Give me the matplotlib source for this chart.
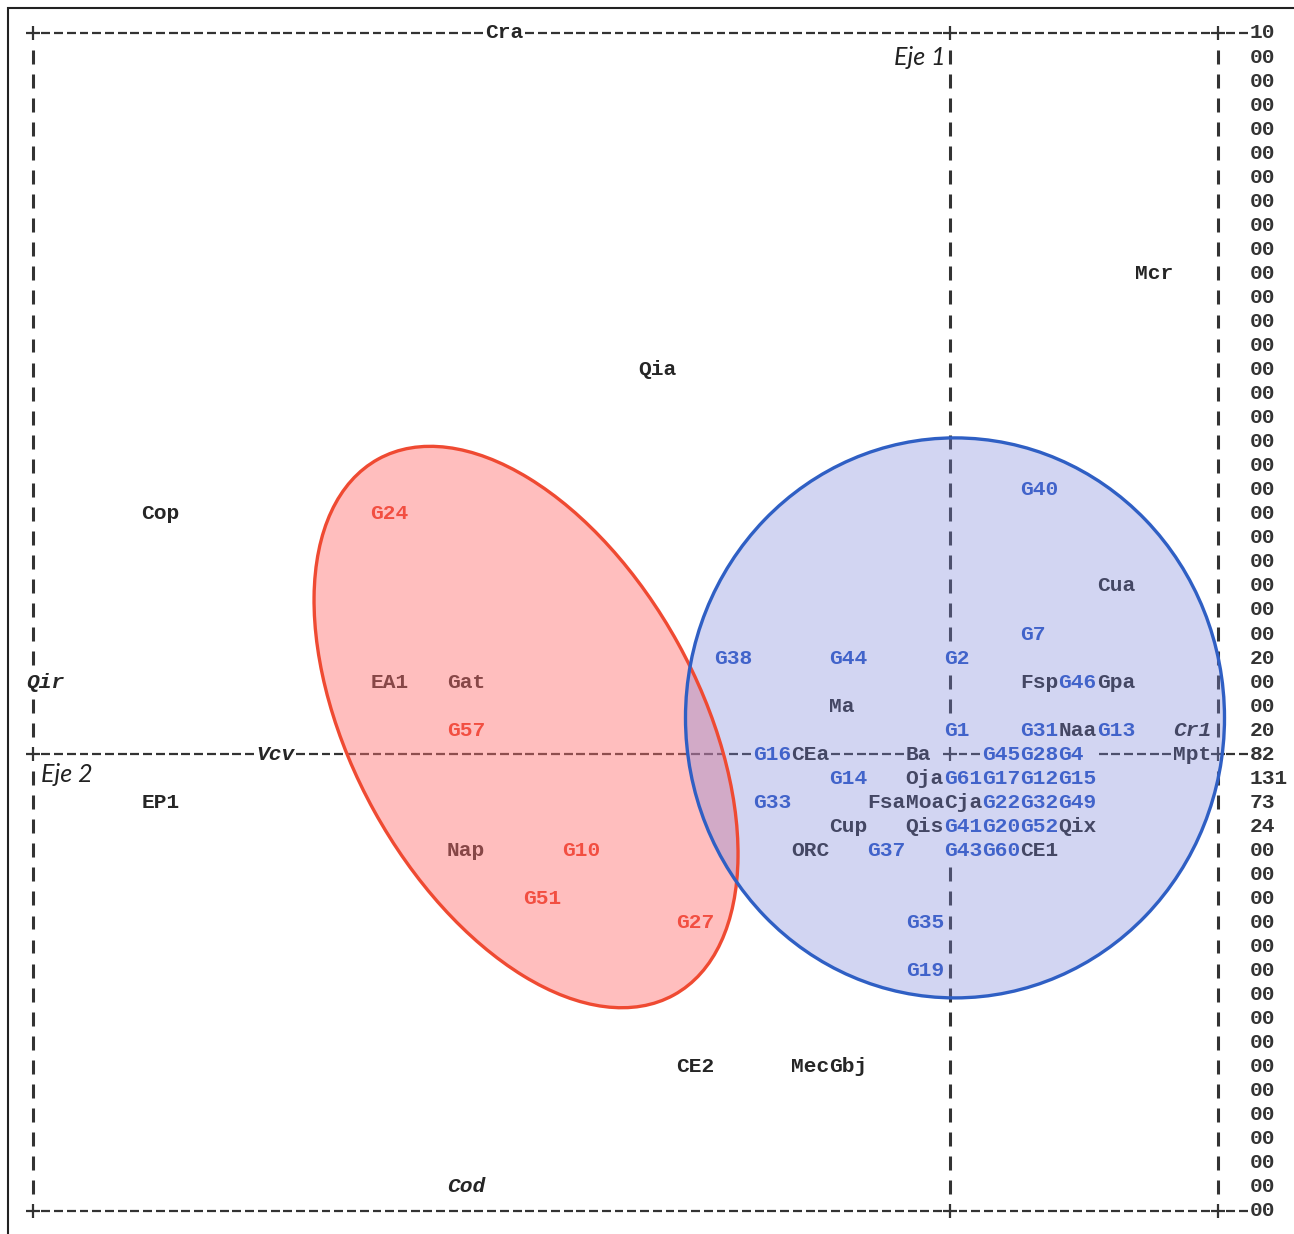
import matplotlib
matplotlib.use('Agg')
import matplotlib.pyplot as plt
from matplotlib.patches import Ellipse, Rectangle
from matplotlib.transforms import Affine2D

# etiquetas del biplot en la rejilla de caracteres (columna, fila)
etiquetas = ['Cra', 'Mcr', 'Qia', 'G40', 'Cop', 'G24', 'Cua', 'G7', 'G38', 'G44', 'G2',
             'Qir', 'EA1', 'Gat', 'Fsp', 'G46', 'Gpa', 'Ma', 'G57', 'G1', 'G31', 'Naa', 'G13', 'Cr1',
             'Vcv', 'G16', 'CEa', 'Ba', 'G45', 'G28', 'G4', 'Mpt',
             'G14', 'Oja', 'G61', 'G17', 'G12', 'G15',
             'EP1', 'G33', 'Fsa', 'Moa', 'Cja', 'G22', 'G32', 'G49',
             'Cup', 'Qis', 'G41', 'G20', 'G52', 'Qix',
             'Nap', 'G10', 'ORC', 'G37', 'G43', 'G60', 'CE1',
             'G51', 'G27', 'G35', 'G19', 'CE2', 'Mec', 'Gbj', 'Cod']
columna = [36, 87, 48, 78, 9, 27, 84, 78, 54, 63, 72,
           0, 27, 33, 78, 81, 84, 63, 33, 72, 78, 81, 84, 90,
           18, 57, 60, 69, 75, 78, 81, 90,
           63, 69, 72, 75, 78, 81,
           9, 57, 66, 69, 72, 75, 78, 81,
           63, 69, 72, 75, 78, 81,
           33, 42, 60, 66, 72, 75, 78,
           39, 51, 69, 69, 51, 60, 63, 33]
fila = [0, 10, 14, 19, 20, 20, 23, 25, 26, 26, 26,
        27, 27, 27, 27, 27, 27, 28, 29, 29, 29, 29, 29, 29,
        30, 30, 30, 30, 30, 30, 30, 30,
        31, 31, 31, 31, 31, 31,
        32, 32, 32, 32, 32, 32, 32, 32,
        33, 33, 33, 33, 33, 33,
        34, 34, 34, 34, 34, 34, 34,
        36, 37, 37, 39, 43, 43, 43, 48]
# v = variable, i = variable en cursiva, r = grupo rojo, a = grupo azul
grupo = ['v', 'v', 'v', 'a', 'v', 'r', 'v', 'a', 'a', 'a', 'a',
         'i', 'v', 'v', 'v', 'a', 'v', 'v', 'r', 'a', 'a', 'v', 'a', 'i',
         'i', 'a', 'v', 'v', 'a', 'a', 'a', 'v',
         'a', 'v', 'a', 'a', 'a', 'a',
         'v', 'a', 'v', 'v', 'v', 'a', 'a', 'a',
         'v', 'v', 'a', 'a', 'a', 'v',
         'v', 'r', 'v', 'a', 'a', 'a', 'v',
         'r', 'r', 'a', 'a', 'v', 'v', 'v', 'i']

# escala impresa a la derecha, una por fila (0..49)
escala = ['10', '00', '00', '00', '00', '00', '00', '00', '00', '00',
          '00', '00', '00', '00', '00', '00', '00', '00', '00', '00',
          '00', '00', '00', '00', '00', '00', '20', '00', '00', '20',
          '82', '131', '73', '24', '00', '00', '00', '00', '00', '00',
          '00', '00', '00', '00', '00', '00', '00', '00', '00', '00']

colores = {'v': '#262626', 'i': '#262626', 'r': '#e8341c', 'a': '#2150c2'}
linea = '#333333'

CW, CH = 12.74, 24.04          # tamaño de celda en pixeles
X0, Y0 = 33, 33                # origen de la rejilla
W, H = 1294, 1234
NCOL_DER, NCOL_MED = 93, 72
FILA_EJE, FILA_FIN = 30, 49

fig = plt.figure(figsize=(W / 100, H / 100), dpi=100, facecolor='white')
ax = fig.add_axes([0, 0, 1, 1])
ax.set_xlim(-X0 / CW, (W - X0) / CW)
ax.set_ylim((H - Y0) / CH, -Y0 / CH)
ax.axis('off')

# celdas ocupadas por texto
ocupadas = set()
for nombre, c, f in zip(etiquetas, columna, fila):
    for k in range(3):
        ocupadas.add((c + k, f))

# ejes dibujados con guiones, barras y cruces como en la salida de impresora
cruces_c, cruces_f = [], []
guion_c, guion_f = [], []
for f in (0, FILA_EJE, FILA_FIN):
    for c in range(0, NCOL_DER + 3):
        if (c, f) in ocupadas:
            continue
        if c in (0, NCOL_MED, NCOL_DER):
            cruces_c.append(c)
            cruces_f.append(f)
        else:
            guion_c.append(c)
            guion_f.append(f)
barra_c, barra_f = [], []
for c in (0, NCOL_MED, NCOL_DER):
    for f in range(0, FILA_FIN + 1):
        if f in (0, FILA_EJE, FILA_FIN) or (c, f) in ocupadas:
            continue
        barra_c.append(c)
        barra_f.append(f)

ax.hlines(guion_f, [c - 0.35 for c in guion_c], [c + 0.35 for c in guion_c], color=linea, lw=1.6)
ax.vlines(barra_c, [f - 0.29 for f in barra_f], [f + 0.29 for f in barra_f], color=linea, lw=2.2)
ax.plot(cruces_c, cruces_f, '+', color=linea, ms=10, mew=1.6)

fuente = dict(family='Liberation Mono', weight='bold', size=15.3)
for nombre, c, f, g in zip(etiquetas, columna, fila, grupo):
    ax.text(c - 0.5, f, nombre, ha='left', va='center', color=colores[g],
            style='italic' if g == 'i' else 'normal', **fuente)

for f, val in enumerate(escala):
    ax.text(NCOL_DER + 2.5, f, val, ha='left', va='center', color=linea, **fuente)

ax.text(NCOL_MED - 0.4, 1, 'Eje 1', ha='right', va='center', family='Lato',
        style='italic', size=18, color='#222222')
ax.text(0.6, 30.85, 'Eje 2', ha='left', va='center', family='Lato',
        style='italic', size=18, color='#222222')

# elipses de los grupos, definidas en espacio de pixeles
t = Affine2D().scale(1 / CW, 1 / CH) + ax.transData
roja = Ellipse((38.7 * CW, 28.87 * CH), 612, 347, angle=61.1, transform=t,
               facecolor='#ff7070', alpha=0.45, edgecolor='none', zorder=5)
azul = Ellipse((72.37 * CW, 28.49 * CH), 539, 560, transform=t,
               facecolor='#7e87da', alpha=0.35, edgecolor='none', zorder=6)
ax.add_patch(roja)
ax.add_patch(azul)
ax.add_patch(Ellipse((38.7 * CW, 28.87 * CH), 612, 347, angle=61.1, transform=t,
                     fill=False, edgecolor='#ef4a32', lw=2.4, zorder=7))
ax.add_patch(Ellipse((72.37 * CW, 28.49 * CH), 539, 560, transform=t,
                     fill=False, edgecolor='#2f5fc4', lw=2.4, zorder=8))

# marco exterior
fig.add_artist(Rectangle((8 / W, -0.1), 1.2, (H - 8) / H + 0.1, transform=fig.transFigure,
                         fill=False, edgecolor='#222222', lw=1.5))

plt.savefig('out.png', dpi=100, facecolor='white')
